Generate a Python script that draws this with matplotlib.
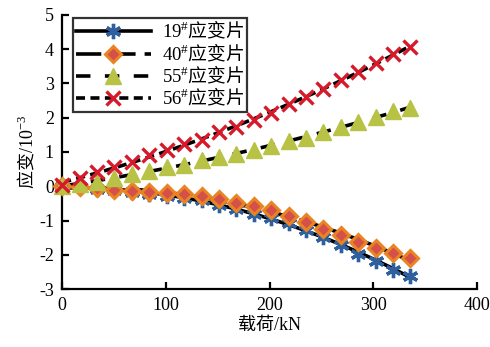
import numpy as np
import matplotlib
matplotlib.use("Agg")
import matplotlib.pyplot as plt

plt.rcParams["font.family"] = ["Liberation Serif", "Noto Sans CJK SC"]
plt.rcParams["mathtext.fontset"] = "custom"
plt.rcParams["mathtext.rm"] = "Liberation Serif"
plt.rcParams["axes.unicode_minus"] = False

# load steps (kN)
load = [0, 16.8, 33.6, 50.4, 67.2, 84.0, 100.8, 117.6, 134.4, 151.2, 168.0,
        184.8, 201.6, 218.4, 235.2, 252.0, 268.8, 285.6, 302.4, 319.2, 336.0]

# strain readings (10^-3)
g19 = [0.0, -0.03, -0.07, -0.12, -0.17, -0.22, -0.27, -0.33, -0.41, -0.55, -0.67,
       -0.80, -0.93, -1.08, -1.27, -1.48, -1.72, -1.98, -2.18, -2.43, -2.62]
g40 = [0.0, -0.02, -0.06, -0.10, -0.13, -0.16, -0.19, -0.23, -0.29, -0.38, -0.48,
       -0.58, -0.70, -0.88, -1.03, -1.25, -1.43, -1.62, -1.80, -1.96, -2.08]
g55 = [0.0, 0.08, 0.13, 0.25, 0.37, 0.45, 0.56, 0.62, 0.76, 0.86, 0.94,
       1.05, 1.17, 1.31, 1.42, 1.58, 1.73, 1.88, 2.03, 2.19, 2.27]
g56 = [0.05, 0.23, 0.42, 0.56, 0.71, 0.91, 1.05, 1.22, 1.36, 1.59, 1.73,
       1.93, 2.13, 2.39, 2.60, 2.83, 3.09, 3.34, 3.61, 3.85, 4.07]

labels = [r"$\mathrm{19^{\#}}$应变片", r"$\mathrm{40^{\#}}$应变片",
          r"$\mathrm{55^{\#}}$应变片", r"$\mathrm{56^{\#}}$应变片"]

fig = plt.figure(figsize=(4.9, 3.47), dpi=100)
ax = fig.add_axes([0.127, 0.167, 0.846, 0.790])

styles = [
    dict(ls="-", marker=(6, 2, 0), ms=11, mfc="#2f5f9c", mec="#2f5f9c", mew=2.4),
    dict(ls=(0, (7, 2.5)), marker="D", ms=8.5, mfc="#d4504a", mec="#ea8423", mew=2.2),
    dict(ls=(0, (4, 4)), marker="^", ms=11, mfc="#b8c244", mec="#b8c244", mew=1),
    dict(ls=(0, (2.5, 1.5)), marker="x", ms=9.5, mfc="#d71a2b", mec="#d71a2b", mew=2.4),
]

x = np.array(load)
xs = np.linspace(0, 336, 100)
handles = []
for y, st, lab in zip([g19, g40, g55, g56], styles, labels):
    # trend line (quadratic fit of the readings)
    fit = np.polyval(np.polyfit(x, y, 2), xs)
    ax.plot(xs, fit, color="black", lw=2.6, ls=st["ls"], zorder=2)
    ax.plot(x, y, ls="none", marker=st["marker"], ms=st["ms"], mfc=st["mfc"],
            mec=st["mec"], mew=st["mew"], zorder=3, clip_on=False)
    h, = ax.plot([], [], color="black", lw=2.6, ls=st["ls"], marker=st["marker"],
                 ms=st["ms"], mfc=st["mfc"], mec=st["mec"], mew=st["mew"], label=lab)
    handles.append(h)

ax.set_xlim(0, 400)
ax.set_ylim(-3, 5)
ax.set_xticks([0, 100, 200, 300, 400])
ax.set_yticks(range(-3, 6))
ax.spines["top"].set_visible(False)
ax.spines["right"].set_visible(False)
for s in ["left", "bottom"]:
    ax.spines[s].set_linewidth(1.6)
ax.tick_params(direction="in", length=5, width=1.6, labelsize=13, pad=6)

ax.set_xlabel("载荷/kN", fontsize=13, labelpad=2)
ax.set_ylabel(r"应变$\mathrm{/10^{-3}}$", fontsize=13, labelpad=2,
              family=["Noto Sans CJK SC"])

leg = ax.legend(handles=handles, loc="upper left", bbox_to_anchor=(0.012, 1.01),
                frameon=True, fancybox=False, handlelength=4.0,
                borderpad=0.15, labelspacing=0.0, handletextpad=0.6,
                borderaxespad=0.3,
                prop={"family": ["Noto Sans CJK SC"], "size": 13.5})
leg.get_frame().set_edgecolor("black")
leg.get_frame().set_linewidth(1.6)

fig.savefig("out.png", dpi=100)
